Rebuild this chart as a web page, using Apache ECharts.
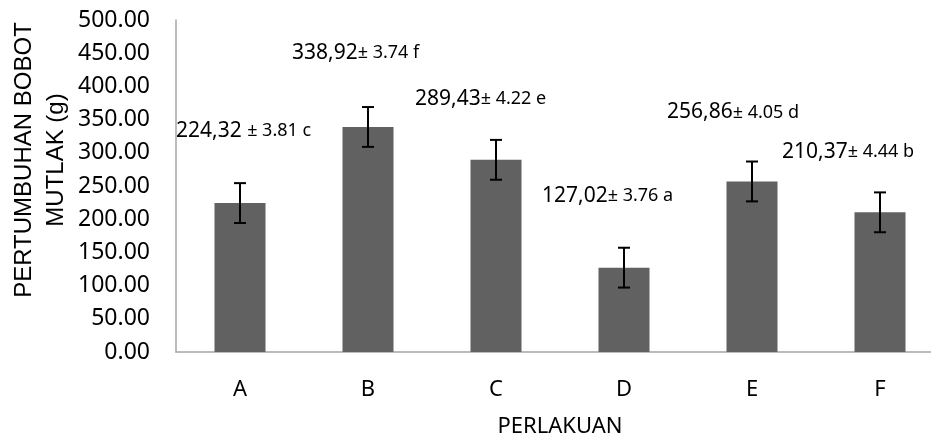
<!DOCTYPE html>
<html>
<head>
<meta charset="utf-8">
<script src="https://cdn.jsdelivr.net/npm/echarts@6/dist/echarts.min.js"></script>
<style>
  html, body { margin: 0; padding: 0; background: #fff; }
  #main { width: 931px; height: 434px; }
</style>
</head>
<body>
<div id="main"></div>
<script>
// data
const categories = ['A', 'B', 'C', 'D', 'E', 'F'];
const means = [224.32, 338.92, 289.43, 127.02, 256.86, 210.37];
const errors = [30, 30, 30, 30, 30, 30];
const labelMain = ['224,32 ', '338,92', '289,43', '127,02', '256,86', '210,37'];
const labelSub = ['± 3.81 c', '± 3.74 f', '± 4.22 e', '± 3.76 a', '± 4.05 d', '± 4.44 b'];

// where the (hand placed) data labels sit relative to bar tops
const labelOffsets = [[-64, -72], [-76, -74], [-81, -61], [-82, -72], [-85, -69], [-98, -60]];

const tickFont = 'Noto Sans';

const chart = echarts.init(document.getElementById('main'));

const option = {
  animation: false,
  grid: { left: 176, top: 20, width: 768, height: 332, outerBoundsMode: 'none', containLabel: false },
  graphic: [{
    type: 'text',
    x: 40,
    y: 160,
    rotation: Math.PI / 2,
    style: {
      text: 'PERTUMBUHAN BOBOT\nMUTLAK (g)',
      font: '24px "Liberation Sans"',
      fill: '#000',
      align: 'center',
      verticalAlign: 'middle',
      lineHeight: 32
    }
  }],
  xAxis: {
    type: 'category',
    data: categories,
    name: 'PERLAKUAN',
    nameLocation: 'middle',
    nameGap: 64,
    nameTextStyle: { fontFamily: tickFont, fontSize: 22, color: '#000' },
    axisLine: { lineStyle: { color: '#a6a6a6', width: 1.5 } },
    axisTick: { show: false },
    axisLabel: { fontFamily: tickFont, fontSize: 22, color: '#000', margin: 27 }
  },
  yAxis: {
    type: 'value',
    min: 0,
    max: 500,
    interval: 50,
    axisLine: { show: true, lineStyle: { color: '#a6a6a6', width: 1.5 } },
    axisTick: { show: false },
    splitLine: { show: false },
    axisLabel: {
      fontFamily: tickFont, fontSize: 23, color: '#000', margin: 26,
      formatter: v => v.toFixed(2)
    }
  },
  series: [
    {
      type: 'bar',
      barWidth: 51,
      itemStyle: { color: '#616161' },
      data: means.map((v, i) => ({
        value: v,
        label: {
          show: true,
          position: 'top',
          distance: 0,
          align: 'left',
          verticalAlign: 'middle',
          offset: labelOffsets[i],
          formatter: '{a|' + labelMain[i] + '}{b|' + labelSub[i] + '}',
          rich: {
            a: { fontFamily: tickFont, fontSize: 21, color: '#000' },
            b: { fontFamily: tickFont, fontSize: 18, color: '#000' }
          }
        }
      }))
    },
    {
      type: 'custom',
      z: 5,
      data: means.map((v, i) => [i, v + errors[i], v - errors[i]]),
      renderItem: function (params, api) {
        const hi = api.coord([api.value(0), api.value(1)]);
        const lo = api.coord([api.value(0), api.value(2)]);
        const w = 6;
        const st = { stroke: '#000', lineWidth: 2 };
        return {
          type: 'group',
          children: [
            { type: 'line', shape: { x1: hi[0], y1: hi[1], x2: lo[0], y2: lo[1] }, style: st },
            { type: 'line', shape: { x1: hi[0] - w, y1: hi[1], x2: hi[0] + w, y2: hi[1] }, style: st },
            { type: 'line', shape: { x1: lo[0] - w, y1: lo[1], x2: lo[0] + w, y2: lo[1] }, style: st }
          ]
        };
      }
    }
  ]
};

chart.setOption(option);
</script>
</body>
</html>
